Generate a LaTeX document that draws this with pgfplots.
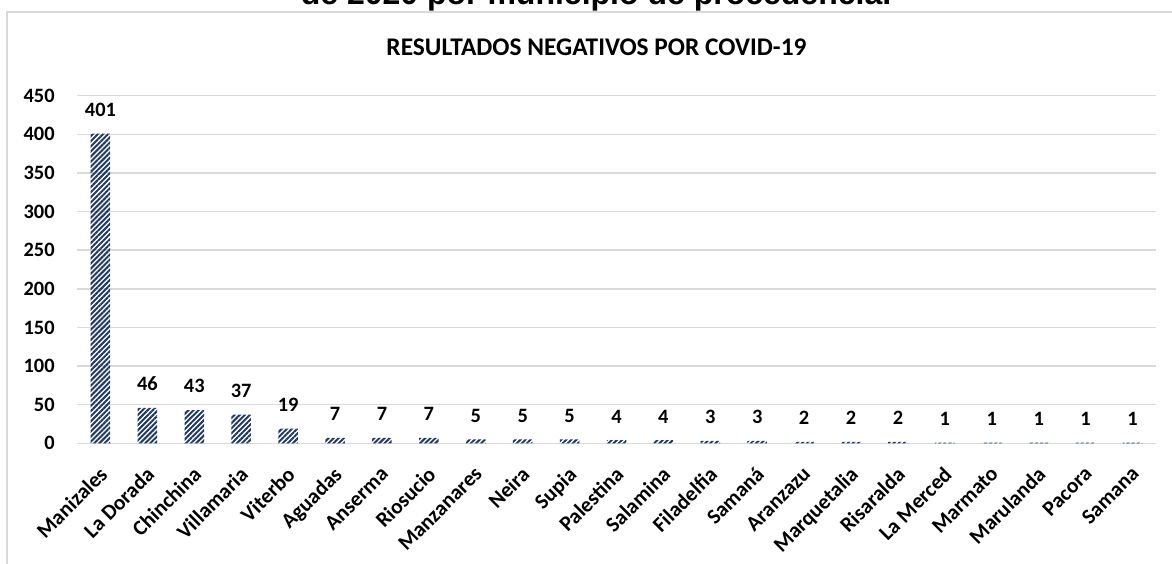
\documentclass[border=0pt]{standalone}
\usepackage{pgfplots}
\pgfplotsset{compat=1.18}
\usepackage{fontspec}
\setmainfont{Carlito}
\newfontfamily\arialfont{Liberation Sans}
\usetikzlibrary{patterns.meta}
\definecolor{navy}{RGB}{31,56,100}
\definecolor{gridgray}{RGB}{217,217,217}
\begin{document}
\begin{tikzpicture}[x=1pt,y=1pt]
\draw[gridgray, line width=0.75pt] (3.5,-5) -- (3.5,275.5) -- (600,275.5);
\node[anchor=base, font=\arialfont\bfseries\fontsize{16pt}{19pt}\selectfont, inner sep=0pt] at (298,279.2) {de 2020 por municipio de procedencia.};
\node[anchor=base, font=\bfseries\fontsize{12.7pt}{15pt}\selectfont, inner sep=0pt] at (298.25,253.75) {RESULTADOS NEGATIVOS POR COVID-19};
\begin{axis}[
  at={(38.5pt,59.85pt)}, anchor=south west,
  width=539.5pt, height=173.8pt, scale only axis,
  xmin=-0.5, xmax=22.5, ymin=0, ymax=450,
  ytick={0,50,...,450},
  xtick={0,...,22},
  xticklabels={Manizales,La Dorada,Chinchina,Villamaria,Viterbo,Aguadas,Anserma,Riosucio,Manzanares,Neira,Supia,Palestina,Salamina,Filadelfia,Samaná,Aranzazu,Marquetalia,Risaralda,La Merced,Marmato,Marulanda,Pacora,Samana},
  axis line style={draw=none},
  major tick length=0pt,
  ymajorgrids,
  grid style={gridgray, line width=0.75pt},
  /pgf/number format/assume math mode=true,
  yticklabel style={font=\bfseries\fontsize{10.2pt}{12pt}\selectfont, inner sep=0pt, anchor=east},
  yticklabel shift=11pt,
  xticklabel style={font=\bfseries\fontsize{10.7pt}{12pt}\selectfont, inner sep=0pt, anchor=north east, xshift=-1.2pt, rotate=45},
  xticklabel shift=10.8pt,
  clip=false,
  nodes near coords,
  every node near coord/.append style={font=\bfseries\fontsize{10.2pt}{12pt}\selectfont, inner sep=0pt, anchor=south, yshift=8.3pt, text=black},
]
\addplot[ybar, bar width=9.75pt, draw=none, pattern={Lines[angle=45,distance=1.8pt,line width=1.0pt]}, pattern color=navy]
coordinates {(0,401) (1,46) (2,43) (3,37) (4,19) (5,7) (6,7) (7,7) (8,5) (9,5) (10,5) (11,4) (12,4) (13,3) (14,3) (15,2) (16,2) (17,2) (18,1) (19,1) (20,1) (21,1) (22,1)};
\end{axis}
\pgfresetboundingbox
\useasboundingbox (0,0) rectangle (586,281.5);
\end{tikzpicture}
\end{document}
